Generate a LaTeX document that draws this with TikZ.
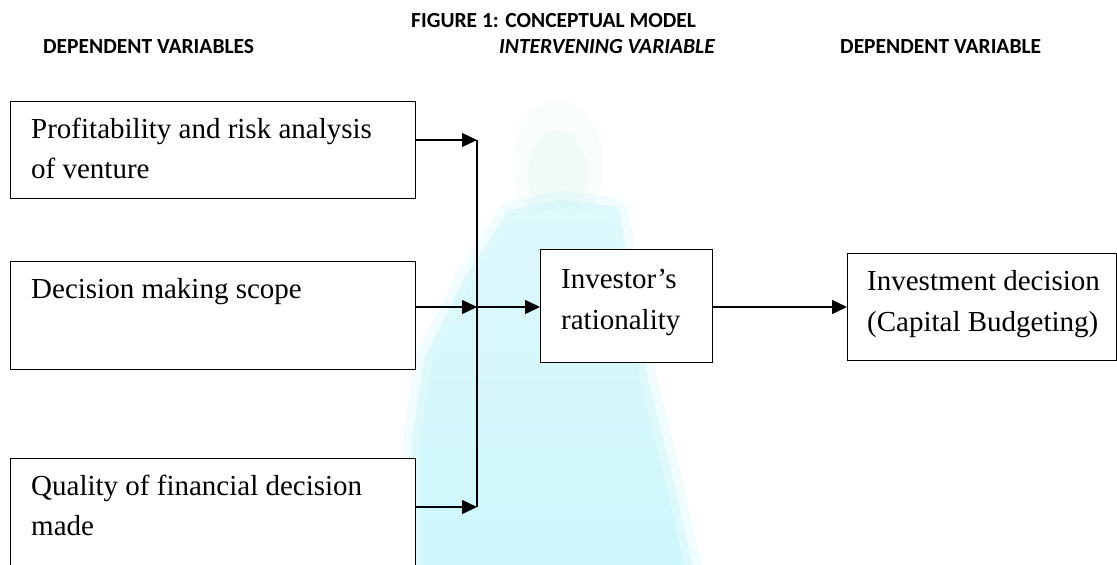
\documentclass[tikz,border=0pt]{standalone}
\usepackage{fontspec}
\setmainfont{Liberation Serif}
\newfontfamily\hdrfont{Carlito}
\usetikzlibrary{arrows.meta}
\definecolor{wmcyan}{RGB}{205,246,251}
\definecolor{wmgreen}{RGB}{226,244,238}
\tikzset{
  boxnode/.style={draw=black, line width=1.4pt, rectangle, inner sep=0pt, anchor=north west},
  txt/.style={inner sep=0pt, anchor=base west, font=\fontsize{29}{35}\selectfont},
  hdr/.style={inner sep=0pt, anchor=base west, font=\hdrfont\bfseries\fontsize{21.5}{26}\selectfont},
  conn/.style={line width=1.4pt},
  arr/.style={line width=1.4pt, -{Triangle[length=15pt,width=14pt]}},
  wmedge/.style={draw=wmcyan, line join=round}
}
\begin{document}
\begin{tikzpicture}[x=1pt,y=-1pt]
\useasboundingbox (0,0) rectangle (1117,565);
% watermark (faint background)
\fill[wmgreen, opacity=0.25] (558,165) ellipse (45pt and 65pt);
\fill[wmgreen, opacity=0.3] (558,175) ellipse (30pt and 45pt);
\path[wmedge, draw opacity=0.3, line width=34pt]
  (420,590) -- (420,440) -- (432,360) -- (470,285) -- (513,218) -- (560,208) -- (612,214)
  -- (640,380) -- (665,480) -- (690,590);
\path[wmedge, draw opacity=0.5, line width=16pt]
  (420,590) -- (420,440) -- (432,360) -- (470,285) -- (513,218) -- (560,208) -- (612,214)
  -- (640,380) -- (665,480) -- (690,590);
\shade[top color=wmcyan!70, bottom color=wmcyan, shading angle=0]
  (420,590) -- (420,440) -- (432,360) -- (470,285) -- (513,218) -- (560,208) -- (612,214)
  -- (640,380) -- (665,480) -- (690,590) -- cycle;
% headers
\node[hdr] (title) at (411,27) {FIGURE 1: CONCEPTUAL MODEL};
\node[hdr] (h1) at (43,53) {DEPENDENT VARIABLES};
\node[hdr, font=\hdrfont\bfseries\itshape\fontsize{21.5}{26}\selectfont] (h2) at (499,53) {INTERVENING VARIABLE};
\node[hdr] (h3) at (840,53) {DEPENDENT VARIABLE};
% boxes
\node[boxnode, fill=white, minimum width=405pt, minimum height=97pt] (b1) at (10,101) {};
\node[boxnode, fill=white, minimum width=405pt, minimum height=108pt] (b2) at (10,261) {};
\node[boxnode, fill=white, minimum width=405pt, minimum height=140pt] (b3) at (10,458) {};
\node[boxnode, fill=white, minimum width=172pt, minimum height=113pt] (inv) at (540,249) {};
\node[boxnode, fill=white, minimum width=269pt, minimum height=107pt] (dec) at (847,253) {};
% texts
\node[txt] (t1a) at (31,138) {Profitability and risk analysis};
\node[txt] (t1b) at (31,178) {of venture};
\node[txt] (t2a) at (31,298) {Decision making scope};
\node[txt] (t3a) at (31,495) {Quality of financial decision};
\node[txt] (t3b) at (31,535) {made};
\node[txt] (t4a) at (561,288) {Investor’s};
\node[txt] (t4b) at (561,329) {rationality};
\node[txt] (t5a) at (867,290) {Investment decision};
\node[txt] (t5b) at (867,331) {(Capital Budgeting)};
% connectors
\coordinate (p1) at (477,140);
\coordinate (p2) at (477,307);
\coordinate (p3) at (477,507);
\draw[arr] (b1.east |- p1) -- (p1);
\draw[arr] (b2.east |- p2) -- (p2);
\draw[arr] (b3.east |- p3) -- (p3);
\draw[conn] (p1) -- (p3);
\draw[arr] (p2) -- (inv.west |- p2);
\draw[arr] (inv.east |- p2) -- (dec.west |- p2);
\end{tikzpicture}
\end{document}
